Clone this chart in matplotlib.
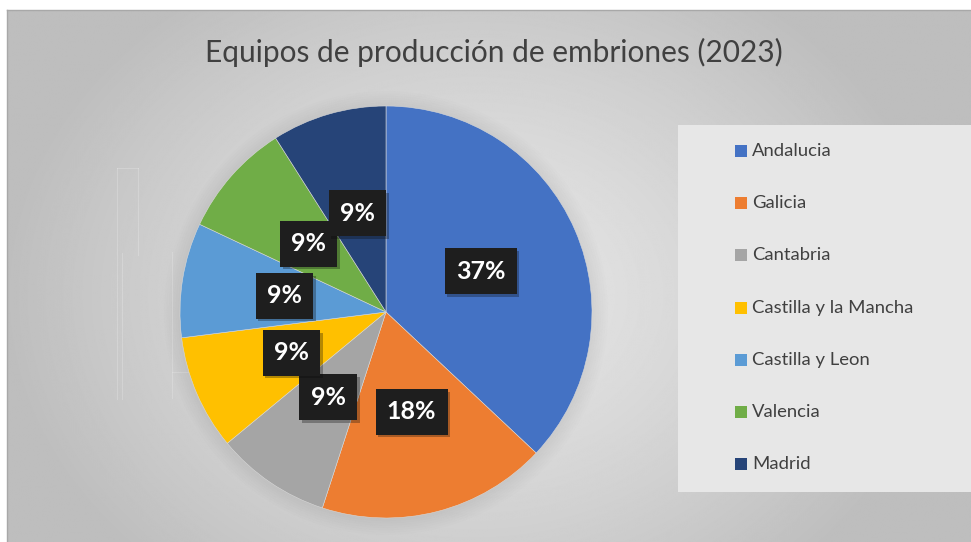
import numpy as np
import matplotlib
matplotlib.use("Agg")
import matplotlib.pyplot as plt
from matplotlib.patches import Rectangle
import matplotlib.patheffects as pe

# ---------- data ----------
regions = ["Andalucia", "Galicia", "Cantabria", "Castilla y la Mancha",
           "Castilla y Leon", "Valencia", "Madrid"]
shares = [37, 18, 9, 9, 9, 9, 9]
colors = ["#4472C4", "#ED7D31", "#A5A5A5", "#FFC000",
          "#5B9BD5", "#70AD47", "#264478"]
title = "Equipos de producción de embriones (2023)"

W, H = 971, 542
fig = plt.figure(figsize=(W / 100, H / 100), dpi=100)
fig.patch.set_facecolor("white")

# ---------- background (pixel coordinates) ----------
bg = fig.add_axes([0, 0, 1, 1])
bg.set_xlim(0, W)
bg.set_ylim(H, 0)
bg.axis("off")
yy, xx = np.mgrid[0:H, 0:W]
d = np.sqrt((xx - 470) ** 2 + ((yy - 290) * 1.25) ** 2)
t = np.clip(d / 470, 0, 1) ** 1.3
grad = 0.905 - t * (0.905 - 0.745)
bg.imshow(grad, cmap="gray", vmin=0, vmax=1, extent=[7, W, H, 10],
          interpolation="bilinear", zorder=0)
bg.plot([7, W], [10, 10], color="#a8a8a8", lw=1, zorder=1)
bg.plot([7, 7], [10, H], color="#a8a8a8", lw=1, zorder=1)

# faint decorative lines
for x0, y0, x1, y1 in [(117, 168, 117, 399), (122, 253, 122, 399),
                       (138, 168, 138, 255), (172, 252, 172, 398),
                       (117, 168, 138, 168), (172, 372, 195, 372)]:
    bg.plot([x0, x1], [y0, y1], color="white", lw=0.8, alpha=0.2, zorder=1)

# soft shadow around pie
for r in np.linspace(222, 206, 8):
    bg.add_patch(plt.Circle((386, 313), r, color="black", alpha=0.008, lw=0, zorder=2))

# ---------- title ----------
fig.text(494 / W, 1 - 52 / H, title, ha="center", va="center",
         fontsize=21.5, family="Lato", color="#404040")

# ---------- pie ----------
r = 206
ax = fig.add_axes([(386 - r) / W, (H - 312 - r) / H, 2 * r / W, 2 * r / H])
ax.set_facecolor("none")
wedges, _, autotexts = ax.pie(
    shares, colors=colors, startangle=90, counterclock=False,
    autopct=lambda p: f"{p:.0f}%", pctdistance=0.5, radius=1,
    wedgeprops=dict(edgecolor="#d9d9d9", linewidth=0.4),
    textprops=dict(color="white", fontsize=18, family="Lato", fontweight="bold"))
ax.set_xlim(-1, 1)
ax.set_ylim(-1, 1)
for at in autotexts:
    at.set_bbox(dict(boxstyle="square,pad=0.45", facecolor="#1e1e1e", edgecolor="none"))
    at.get_bbox_patch().set_path_effects(
        [pe.SimplePatchShadow(offset=(2, -2), alpha=0.3), pe.Normal()])

# ---------- legend ----------
bg.add_patch(Rectangle((678, 125), W - 678, 367, facecolor="#e7e7e7",
                       edgecolor="none", zorder=3))
row_y = np.arange(len(regions)) * 52.2 + 151
for name, col, y in zip(regions, colors, row_y):
    bg.add_patch(Rectangle((735, y - 6), 12, 12, facecolor=col, edgecolor="none", zorder=4))
    bg.text(752, y, name, fontsize=13.3, family="Lato", color="#404040",
            va="center", ha="left", zorder=4)

fig.savefig("out.png", dpi=100)
